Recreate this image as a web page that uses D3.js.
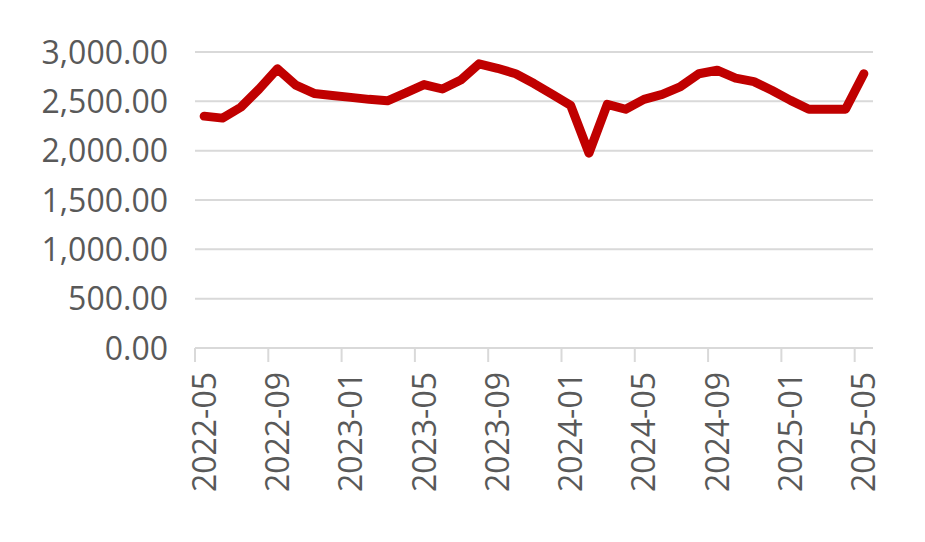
<!DOCTYPE html>
<html>
<head>
<meta charset="utf-8">
<script src="https://cdn.jsdelivr.net/npm/d3@7"></script>
<style>
  body { margin: 0; background: #fff; }
  text { font-family: "Open Sans", "Segoe UI", sans-serif; fill: #595959; }
</style>
</head>
<body>
<div id="chart"></div>
<script>
const width = 925;
const height = 542;
const margin = { top: 52, bottom: 194, left: 195, right: 52 };
const innerWidth = width - margin.left - margin.right;
const innerHeight = height - margin.top - margin.bottom;

// monthly values, 2022-05 .. 2025-05
const months = [
  '2022-05', '2022-06', '2022-07', '2022-08', '2022-09', '2022-10', '2022-11', '2022-12',
  '2023-01', '2023-02', '2023-03', '2023-04', '2023-05', '2023-06', '2023-07', '2023-08',
  '2023-09', '2023-10', '2023-11', '2023-12', '2024-01', '2024-02', '2024-03', '2024-04',
  '2024-05', '2024-06', '2024-07', '2024-08', '2024-09', '2024-10', '2024-11', '2024-12',
  '2025-01', '2025-02', '2025-03', '2025-04', '2025-05'
];
const values = [
  2350, 2330, 2440, 2625, 2830, 2665, 2580, 2560,
  2540, 2520, 2505, 2585, 2670, 2625, 2716, 2880,
  2835, 2780, 2680, 2570, 2460, 1975, 2470, 2420,
  2520, 2570, 2650, 2780, 2815, 2735, 2700, 2610,
  2510, 2420, 2420, 2420, 2780
];
const yTicks = [0, 500, 1000, 1500, 2000, 2500, 3000];
const tickEvery = 4;

const lineColor = '#c00000';
const gridColor = '#d9d9d9';
const fmt = d3.format(',.2f');

const data = months.map((m, i) => ({ month: m, value: values[i] }));

const svg = d3.select('#chart')
  .append('svg')
  .attr('width', width)
  .attr('height', height);

const g = svg.append('g')
  .attr('transform', `translate(${margin.left}, ${margin.top})`);

const xScale = d3.scaleBand()
  .domain(months)
  .range([0, innerWidth])
  .padding(0);

const yScale = d3.scaleLinear()
  .domain([0, 3000])
  .range([innerHeight, 0]);

// horizontal gridlines (0 line doubles as the x axis)
g.selectAll('.grid')
  .data(yTicks)
  .enter()
  .append('line')
  .attr('x1', 0)
  .attr('x2', innerWidth)
  .attr('y1', d => yScale(d))
  .attr('y2', d => yScale(d))
  .attr('stroke', gridColor)
  .attr('stroke-width', 2);

// y labels
g.selectAll('.ylab')
  .data(yTicks)
  .enter()
  .append('text')
  .attr('x', -27)
  .attr('y', d => yScale(d))
  .attr('dy', '0.36em')
  .attr('text-anchor', 'end')
  .style('font-size', '32px')
  .text(d => fmt(d));

// x ticks sit on category boundaries, labels in the middle of the category
const tickMonths = months.filter((m, i) => i % tickEvery === 0);

g.selectAll('.xtick')
  .data(tickMonths)
  .enter()
  .append('line')
  .attr('x1', d => xScale(d))
  .attr('x2', d => xScale(d))
  .attr('y1', innerHeight)
  .attr('y2', innerHeight + 14)
  .attr('stroke', gridColor)
  .attr('stroke-width', 2);

g.selectAll('.xlab')
  .data(tickMonths)
  .enter()
  .append('text')
  .attr('transform', d => `translate(${xScale(d) + xScale.bandwidth() / 2}, ${innerHeight + 24}) rotate(-90)`)
  .attr('dy', '0.36em')
  .attr('text-anchor', 'end')
  .style('font-size', '32px')
  .text(d => d);

// the series
const line = d3.line()
  .x(d => xScale(d.month) + xScale.bandwidth() / 2)
  .y(d => yScale(d.value));

g.append('path')
  .datum(data)
  .attr('d', line)
  .attr('fill', 'none')
  .attr('stroke', lineColor)
  .attr('stroke-width', 9)
  .attr('stroke-linejoin', 'round')
  .attr('stroke-linecap', 'round');
</script>
</body>
</html>
